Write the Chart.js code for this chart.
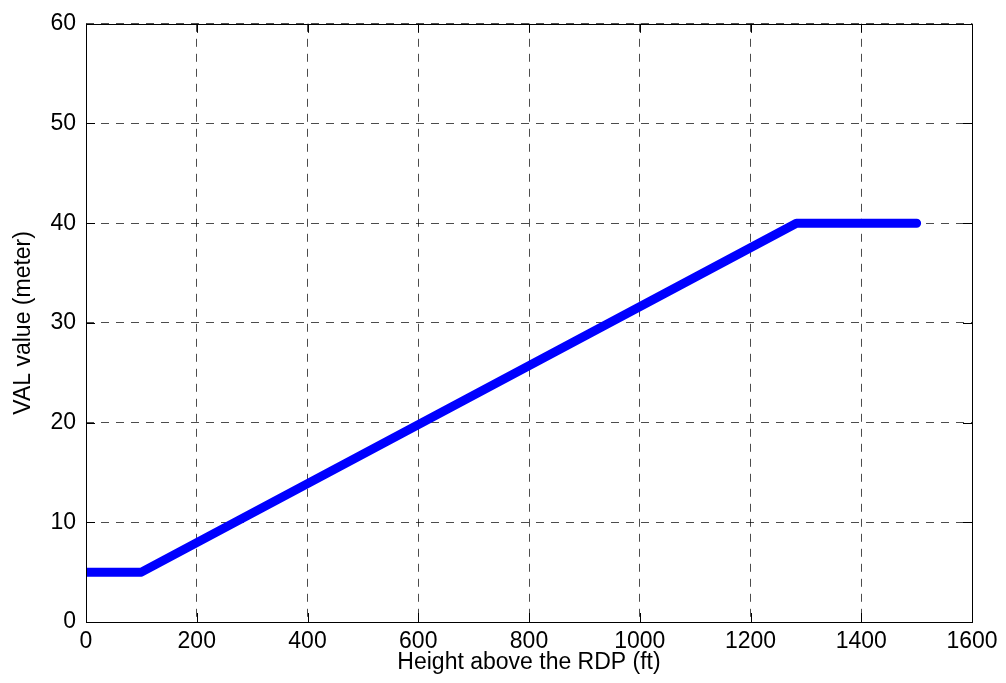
<!DOCTYPE html>
<html>
<head>
<meta charset="utf-8">
<script src="https://cdn.jsdelivr.net/npm/chart.js@4.4.0/dist/chart.umd.min.js"></script>
<style>
  html, body { margin: 0; padding: 0; background: #fff; }
  #wrap { width: 1006px; height: 683px; }
</style>
</head>
<body>
<div id="wrap"><canvas id="chart" width="1006" height="683"></canvas></div>
<script>
// height above the RDP (ft) and VAL (m)
var heightFt = [0, 100, 1283, 1500];
var valMeter = [5, 5, 40, 40];

var xTicks = [0, 200, 400, 600, 800, 1000, 1200, 1400, 1600];
var yTicks = [0, 10, 20, 30, 40, 50, 60];

var fontFam = "'Liberation Sans', Arial, sans-serif";

// box round the plot + inward ticks, like matlab
var frame = {
  id: "frame",
  afterDraw: function(chart){
    var a = chart.chartArea, ctx = chart.ctx;
    var sx = chart.scales.x, sy = chart.scales.y;
    ctx.save();
    ctx.strokeStyle = "#000";
    ctx.lineWidth = 1;
    ctx.beginPath();
    xTicks.forEach(function(t){
      var px = Math.round(sx.getPixelForValue(t)) + 0.5;
      ctx.moveTo(px, a.bottom); ctx.lineTo(px, a.bottom - 9);
      ctx.moveTo(px, a.top); ctx.lineTo(px, a.top + 9);
    });
    yTicks.forEach(function(t){
      var py = Math.round(sy.getPixelForValue(t)) + 0.5;
      ctx.moveTo(a.left, py); ctx.lineTo(a.left + 9, py);
      ctx.moveTo(a.right, py); ctx.lineTo(a.right - 9, py);
    });
    ctx.stroke();
    ctx.strokeRect(Math.round(a.left) + 0.5, Math.round(a.top) + 0.5,
      Math.round(a.right - a.left), Math.round(a.bottom - a.top));
    ctx.restore();
  }
};

var pts = heightFt.map(function(h, i){ return {x: h, y: valMeter[i]}; });

var ctx = document.getElementById("chart").getContext("2d");
window.valChart = new Chart(ctx, {
  type: "line",
  data: {
    datasets: [{
      data: pts,
      borderColor: "#0000ff",
      backgroundColor: "#0000ff",
      borderWidth: 9,
      borderCapStyle: "round",
      borderJoinStyle: "round",
      pointRadius: 0,
      tension: 0
    }]
  },
  options: {
    responsive: false,
    animation: false,
    layout: { padding: { left: 0, right: 34, top: 20, bottom: 0 } },
    plugins: { legend: { display: false }, tooltip: { enabled: false } },
    scales: {
      x: {
        type: "linear",
        min: 0, max: 1600,
        afterFit: function(s){ s.height = 61; },
        afterBuildTicks: function(s){ s.ticks = xTicks.map(function(v){ return {value: v}; }); },
        grid: { color: "rgba(0,0,0,0.7)", drawTicks: false },
        border: { display: false, dash: [8, 7] },
        ticks: { color: "#000", padding: 6, maxRotation: 0, font: { family: fontFam, size: 23 },
          callback: function(v){ return String(v); } },
        title: { display: true, text: "Height above the RDP (ft)", color: "#000", padding: { top: 0, bottom: 7 }, font: { family: fontFam, size: 23 } }
      },
      y: {
        type: "linear",
        min: 0, max: 60,
        afterFit: function(s){ s.width = 86; },
        afterBuildTicks: function(s){ s.ticks = yTicks.map(function(v){ return {value: v}; }); },
        grid: { color: "rgba(0,0,0,0.7)", drawTicks: false },
        border: { display: false, dash: [8, 7] },
        ticks: { color: "#000", padding: 10, font: { family: fontFam, size: 23 },
          callback: function(v){ return String(v); } },
        title: { display: true, text: "VAL value (meter)", color: "#000", padding: { top: 10, bottom: 0 }, font: { family: fontFam, size: 23 } }
      }
    }
  },
  plugins: [frame]
});
</script>
</body>
</html>
